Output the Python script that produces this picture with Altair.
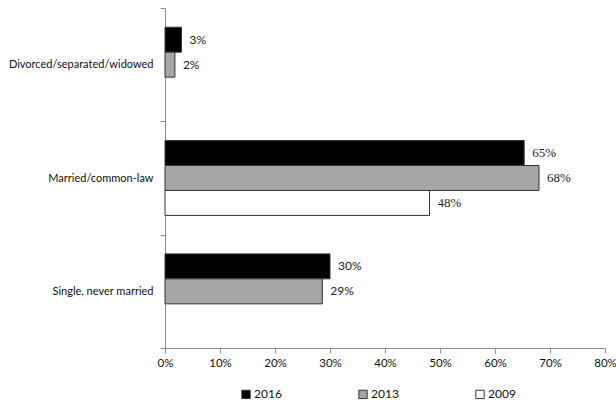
import altair as alt
import pandas as pd

# Share of respondents by marital status, per survey year (percent)
categories = ["Divorced/separated/widowed", "Married/common-law", "Single, never married"]
years = ["2016", "2013", "2009"]
v2016 = [3.0, 65.3, 30.0]
v2013 = [1.8, 68.0, 28.6]
v2009 = [None, 48.1, None]

rows = []
for year, vals in zip(years, [v2016, v2013, v2009]):
    for cat, v in zip(categories, vals):
        if v is not None:
            rows.append({"category": cat, "year": year, "value": v})
df = pd.DataFrame(rows)

fills = ["#000000", "#a6a6a6", "#ffffff"]
SANS = "Lato"
SERIF = "Liberation Serif"

y_enc = alt.Y(
    "category:N",
    sort=categories,
    title=None,
    scale=alt.Scale(paddingInner=0, paddingOuter=0),
    axis=alt.Axis(
        tickBand="extent",
        domainColor="#8c8c8c",
        tickColor="#8c8c8c",
        tickSize=5,
        labelPadding=7,
        labelFont=SANS,
        labelFontSize=11,
        labelColor="#111111",
        labelLimit=300,
        grid=False,
    ),
)
yoff = alt.YOffset(
    "year:N",
    sort=years,
    scale=alt.Scale(domain=years, paddingInner=0, paddingOuter=0.77),
)

x_enc = alt.X(
    "value:Q",
    title=None,
    scale=alt.Scale(domain=[0, 80], nice=False),
    axis=alt.Axis(
        values=list(range(0, 81, 10)),
        labelExpr="datum.value + '%'",
        domainColor="#8c8c8c",
        tickColor="#8c8c8c",
        tickSize=5,
        labelPadding=4,
        labelFont=SANS,
        labelFontSize=11.5,
        labelColor="#111111",
        grid=False,
        labelFlush=False,
    ),
)

bars = alt.Chart(df).mark_bar(stroke="#333333", strokeWidth=1).encode(
    y=y_enc,
    yOffset=yoff,
    x=x_enc,
    fill=alt.Fill(
        "year:N",
        sort=years,
        scale=alt.Scale(domain=years, range=fills),
        legend=alt.Legend(
            title=None,
            orient="none",
            direction="horizontal",
            legendX=75,
            legendY=380,
            symbolType="square",
            symbolSize=70,
            symbolStrokeColor="#333333",
            symbolStrokeWidth=1,
            labelFont=SANS,
            labelFontSize=12,
            labelColor="#111111",
            labelOffset=2,
            columnPadding=74,
        ),
    ),
)

base_text = alt.Chart(df).transform_calculate(
    label="round(datum.value) + '%'",
    married="datum.category === 'Married/common-law' ? 1 : 0",
)

# Value labels: sans-serif for most rows, serif for the married row
labels_sans = base_text.transform_filter("datum.married == 0").mark_text(
    align="left", baseline="middle", dx=8, font=SANS, fontSize=12, color="#222222"
).encode(
    y=alt.Y("category:N", sort=categories),
    yOffset=yoff,
    x="value:Q",
    text="label:N",
)

labels_serif = base_text.transform_filter("datum.married == 1").mark_text(
    align="left", baseline="middle", dx=8, font=SERIF, fontSize=13, color="#222222"
).encode(
    y=alt.Y("category:N", sort=categories),
    yOffset=yoff,
    x="value:Q",
    text="label:N",
)

chart = (
    alt.layer(bars, labels_sans, labels_serif)
    .properties(
        width=440,
        height=340,
        padding={"left": 165, "top": 8, "right": 11, "bottom": 54},
        autosize=alt.AutoSizeParams(type="none"),
        background="white",
    )
    .configure_view(stroke=None)
)

chart.save("out.html", embed_options={"renderer": "svg", "actions": False})
